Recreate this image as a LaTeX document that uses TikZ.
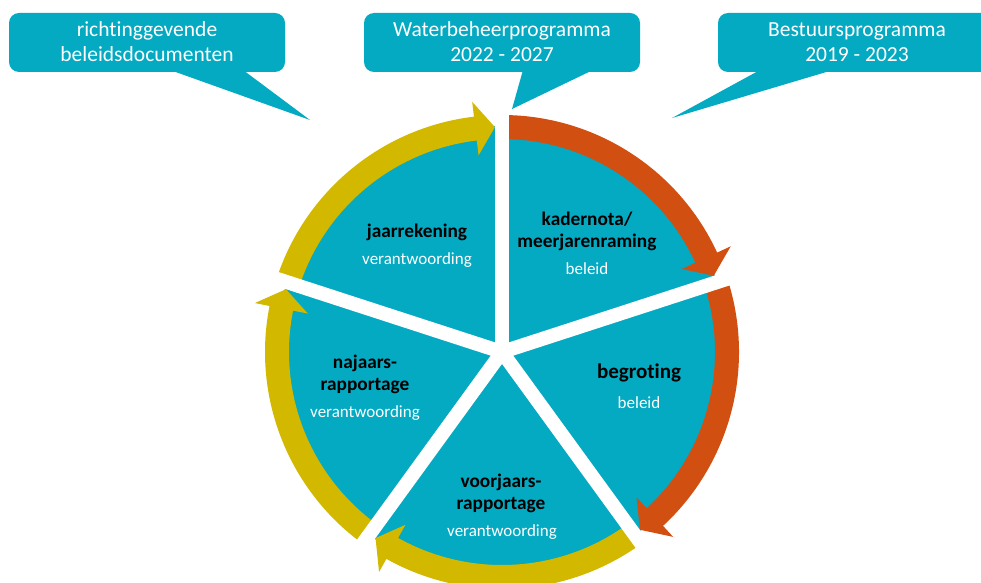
\documentclass[tikz,border=0pt]{standalone}
\usepackage{fontspec}
\setmainfont{Carlito}[Ligatures=NoCommon]
\definecolor{tealc}{HTML}{04A9C2}
\definecolor{orangec}{HTML}{D24F12}
\definecolor{yellowc}{HTML}{D3B800}
\newcommand\ringarrow[3]{%
  \pgfmathsetmacro\bt{#2+1.8}%
  \pgfmathsetmacro\bh{#2+6.8}%
  \fill[#3] (#1:237) arc[start angle=#1, end angle=\bh, radius=237]
    -- (\bh:252) -- (\bt:225) -- (\bh:198) -- (\bh:213)
    arc[start angle=\bh, end angle=#1, radius=213] -- cycle;}
\begin{document}
\begin{tikzpicture}[x=1pt,y=1pt,
  callout/.style={fill=tealc, rounded corners=10pt},
  ctext/.style={text=white, font=\fontsize{21.5}{25}\selectfont, align=center, inner sep=0pt},
  lbl/.style={font=\bfseries\fontsize{19.3}{22}\selectfont, align=center, text=black, inner sep=0pt},
  biglbl/.style={font=\bfseries\fontsize{21}{22}\selectfont, align=center, text=black, inner sep=0pt},
  sub/.style={text=white, font=\fontsize{17}{20}\selectfont, inner sep=0pt},
  sep/.style={draw=white, line width=14pt}]
\useasboundingbox (0,0) rectangle (981,582);
\clip (0,0) rectangle (981,582);
% callouts
\fill[callout] (9,510) rectangle (285,569);
\fill[tealc] (170,512) -- (243,512) -- (310,462) -- cycle;
\fill[callout] (364,510) rectangle (640,569);
\fill[tealc] (523,512) -- (593,512) -- (512,473) -- cycle;
\fill[callout] (718,510) rectangle (996,569);
\fill[tealc] (760,512) -- (833,512) -- (672,464) -- cycle;
\node[ctext] (c1) at (147,540) {richtinggevende\\beleidsdocumenten};
\node[ctext] (c2) at (502,540) {Waterbeheerprogramma\\2022 - 2027};
\node[ctext] (c3) at (857,540) {Bestuursprogramma\\2019 - 2023};
% cycle
\begin{scope}[shift={(502,230)}]
  \fill[tealc] (0,0) circle[radius=226];
  \ringarrow{90}{18}{orangec}
  \ringarrow{18}{-54}{orangec}
  \ringarrow{-54}{-126}{yellowc}
  \ringarrow{-126}{-198}{yellowc}
  \ringarrow{162}{90}{yellowc}
  \foreach \a in {90,18,-54,-126,162} \draw[sep] (0,0) -- (\a:246);
\end{scope}
% labels
\node[lbl] (j1) at (417,350) {jaarrekening};
\node[sub] (j2) at (417,322) {verantwoording};
\node[lbl] (k1) at (587,351) {kadernota/\\meerjarenraming};
\node[sub] (k2) at (587,313) {beleid};
\node[biglbl] (b1) at (639,209) {begroting};
\node[sub] (b2) at (639,179) {beleid};
\node[lbl] (n1) at (365,208) {najaars-\\rapportage};
\node[sub] (n2) at (365,169) {verantwoording};
\node[lbl] (v1) at (501,089) {voorjaars-\\rapportage};
\node[sub] (v2) at (502,050) {verantwoording};
\end{tikzpicture}
\end{document}
